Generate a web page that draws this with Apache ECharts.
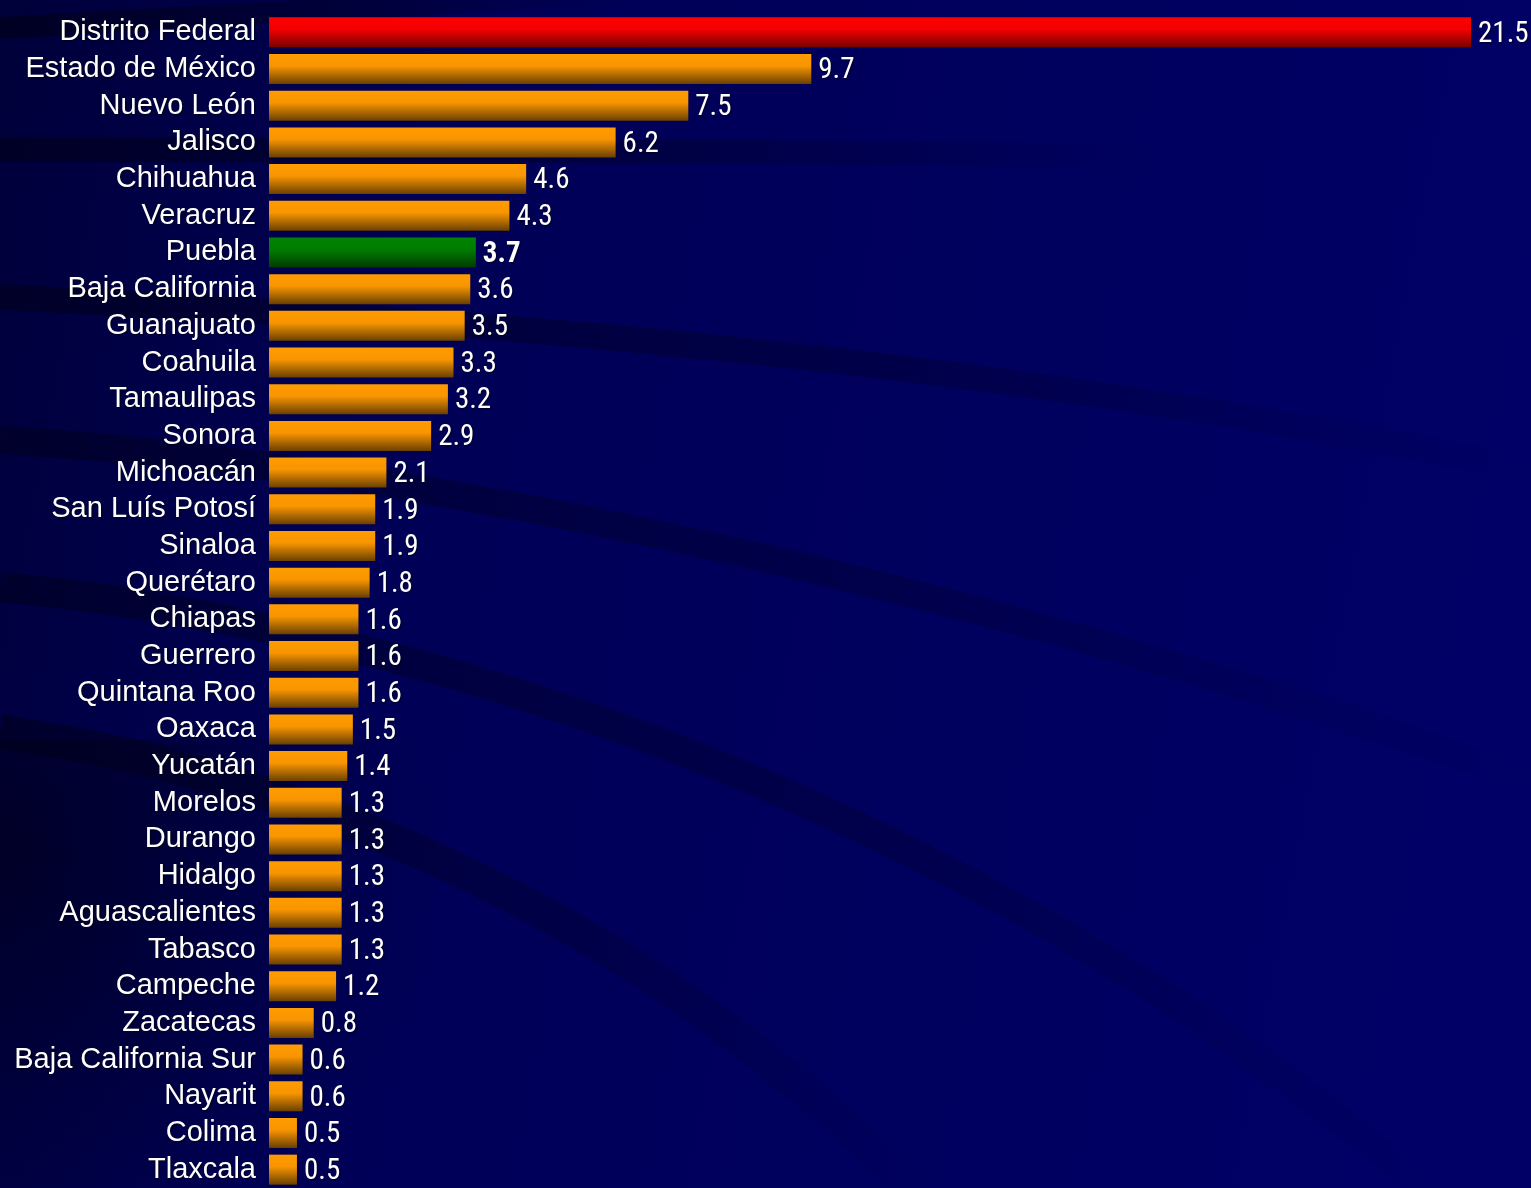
<!DOCTYPE html>
<html>
<head>
<meta charset="utf-8">
<script src="https://cdn.jsdelivr.net/npm/echarts@6/dist/echarts.min.js"></script>
<style>
  html, body { margin: 0; padding: 0; background: #000058; }
  #chart { width: 1531px; height: 1188px; }
</style>
</head>
<body>
<div id="chart"></div>
<script>
// estados, de mayor a menor
const states = [
  'Distrito Federal', 'Estado de México', 'Nuevo León', 'Jalisco', 'Chihuahua',
  'Veracruz', 'Puebla', 'Baja California', 'Guanajuato', 'Coahuila', 'Tamaulipas',
  'Sonora', 'Michoacán', 'San Luís Potosí', 'Sinaloa', 'Querétaro', 'Chiapas',
  'Guerrero', 'Quintana Roo', 'Oaxaca', 'Yucatán', 'Morelos', 'Durango', 'Hidalgo',
  'Aguascalientes', 'Tabasco', 'Campeche', 'Zacatecas', 'Baja California Sur',
  'Nayarit', 'Colima', 'Tlaxcala'
]
const values = [
  21.5, 9.7, 7.5, 6.2, 4.6,
  4.3, 3.7, 3.6, 3.5, 3.3, 3.2,
  2.9, 2.1, 1.9, 1.9, 1.8, 1.6,
  1.6, 1.6, 1.5, 1.4, 1.3, 1.3, 1.3,
  1.3, 1.3, 1.2, 0.8, 0.6,
  0.6, 0.5, 0.5
]
const leader = 'Distrito Federal'
const focus = 'Puebla'

function vGrad(top, mid, bottom) {
  return new echarts.graphic.LinearGradient(0, 0, 0, 1, [
    { offset: 0, color: top },
    { offset: 0.4, color: mid },
    { offset: 1, color: bottom }
  ])
}

const orange = vGrad('#ff9c00', '#f89500', '#6a4000')
const red = vGrad('#ff0000', '#f20000', '#780000')
const green = vGrad('#008400', '#007c00', '#003c00')

const barData = values.map((v, i) => {
  const name = states[i]
  const item = { value: v, itemStyle: { color: orange } }
  if (name === leader) item.itemStyle.color = red
  if (name === focus) {
    item.itemStyle.color = green
    item.label = { fontWeight: 'bold' }
  }
  return item
})

// franjas oscuras del fondo (plantilla de la diapositiva)
function fade(a) {
  return new echarts.graphic.LinearGradient(0, 0, 1, 0, [
    { offset: 0, color: 'rgba(0, 0, 20, ' + a + ')' },
    { offset: 0.6, color: 'rgba(0, 0, 30, ' + (a * 0.6) + ')' },
    { offset: 1, color: 'rgba(0, 0, 40, 0)' }
  ], false)
}
const swooshes = [
  [0, 28, 200, 18, 420, 6, 640, -8, 0.6, 22],
  [0, 150, 300, 150, 700, 150, 1150, 156, 0.55, 24],
  [0, 297, 300, 312, 900, 340, 1531, 470, 0.5, 26],
  [0, 440, 350, 460, 900, 560, 1531, 780, 0.45, 28],
  [0, 587, 450, 630, 1000, 820, 1450, 1210, 0.45, 30],
  [0, 732, 350, 780, 700, 960, 930, 1210, 0.5, 34]
].map(p => ({
  type: 'bezierCurve',
  silent: true,
  z: -10,
  shape: { x1: p[0], y1: p[1], cpx1: p[2], cpy1: p[3], cpx2: p[4], cpy2: p[5], x2: p[6], y2: p[7] },
  style: { stroke: fade(p[8]), lineWidth: p[9], fill: null }
}))
// zona más oscura abajo a la izquierda
swooshes.push({
  type: 'rect',
  silent: true,
  z: -11,
  shape: { x: 0, y: 740, width: 700, height: 448 },
  style: {
    fill: new echarts.graphic.RadialGradient(0, 0.25, 1, [
      { offset: 0, color: 'rgba(0, 0, 20, 0.6)' },
      { offset: 1, color: 'rgba(0, 0, 40, 0)' }
    ])
  }
})

const chart = echarts.init(document.getElementById('chart'))
chart.setOption({
  animation: false,
  backgroundColor: new echarts.graphic.LinearGradient(0, 0, 1, 0.25, [
    { offset: 0, color: '#00003a' },
    { offset: 0.3, color: '#000056' },
    { offset: 1, color: '#000066' }
  ]),
  graphic: swooshes,
  grid: {
    left: 269,
    right: 60,
    top: 14,
    height: 1177.6,
    containLabel: false
  },
  xAxis: {
    type: 'value',
    min: 0,
    max: 21.5,
    show: false
  },
  yAxis: {
    type: 'category',
    inverse: true,
    data: states,
    axisLine: { show: false },
    axisTick: { show: false },
    splitLine: { show: false },
    axisLabel: {
      interval: 0,
      hideOverlap: false,
      margin: 13,
      color: '#ffffff',
      fontSize: 29,
      lineHeight: 32,
      fontFamily: 'Liberation Sans',
      textShadowColor: 'rgba(0, 0, 0, 0.6)',
      textShadowBlur: 2,
      textShadowOffsetX: 1,
      textShadowOffsetY: 1
    }
  },
  series: [
    {
      type: 'bar',
      data: barData,
      barWidth: 30,
      label: {
        show: true,
        position: 'right',
        distance: 7,
        color: '#ffffff',
        fontSize: 29,
        fontFamily: 'Roboto Condensed',
        offset: [0, 2],
        textShadowColor: 'rgba(0, 0, 0, 0.6)',
        textShadowBlur: 2,
        textShadowOffsetX: 1,
        textShadowOffsetY: 1
      }
    }
  ]
})
</script>
</body>
</html>
